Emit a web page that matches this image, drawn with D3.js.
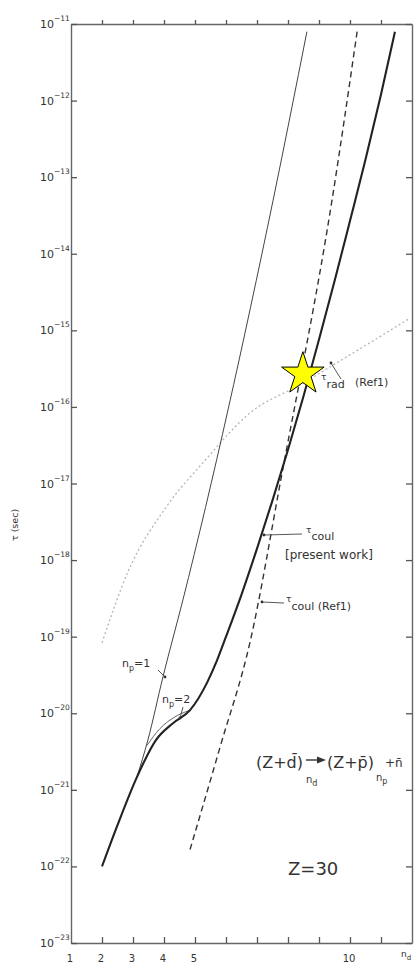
<!DOCTYPE html>
<html>
<head>
<meta charset="utf-8">
<script src="https://d3js.org/d3.v7.min.js"></script>
<style>
  body { margin: 0; background: #fff; }
  svg text { font-family: "DejaVu Sans", "Liberation Sans", sans-serif; fill: #333; }
</style>
</head>
<body>
<script>
// n_d ticks and labels
let ndTicks = [2, 3, 4, 5, 6, 7, 8, 9, 10, 11];
let ndLabels = [1, 2, 3, 4, 5, 10];
// tau decades (exponent of 10)
let tauDecades = [-11, -12, -13, -14, -15, -16, -17, -18, -19, -20, -21, -22, -23];

// curves: n_d and log10(tau)
// total, present work (thick)
let coulNd =  [2, 2.5, 3.13, 3.74, 4.29, 4.84, 5.39, 5.7, 6.0, 6.5, 7.0, 7.5, 8.0, 8.5, 9.0, 9.5, 10.0, 10.5, 11.0, 11.45];
let coulTau = [-22, -21.46, -20.83, -20.35, -20.13, -19.96, -19.6, -19.32, -19.0, -18.45, -17.85, -17.22, -16.56, -15.86, -15.12, -14.36, -13.57, -12.77, -11.92, -11.1];
// n_p = 1 branch
let np1Nd =  [3.13, 3.48, 3.97, 4.61, 7.52, 8.61];
let np1Tau = [-20.83, -20.35, -19.52, -18.52, -13.3, -11.1];
// n_p = 2 branch near the knee
let np2Nd =  [3.45, 3.87, 4.3, 4.84];
let np2Tau = [-20.42, -20.2, -20.06, -19.96];
// tau_coul (Ref1), dashed
let refNd =  [4.84, 5.81, 6.77, 7.81, 9.42, 10.23];
let refTau = [-21.78, -20.44, -19.08, -16.86, -13.3, -11.1];
// tau_rad (Ref1), dotted
let radNd =  [2.0, 2.84, 4.03, 5.32, 6.77, 8.39, 10.0, 11.94];
let radTau = [-19.08, -18.15, -17.33, -16.7, -16.08, -15.71, -15.32, -14.84];
// star marker
let starNd = [8.48];
let starTau = [-15.57];

let width = 418, height = 973;
let margin = {top: 24, right: 6, bottom: 30, left: 71};

let svg = d3.select("body").append("svg")
    .attr("width", width)
    .attr("height", height);

let x = d3.scaleLinear()
    .domain([1, 12])
    .range([margin.left, width - margin.right]);

let y = d3.scaleLog()
    .domain([1e-23, 1e-11])
    .range([height - margin.bottom, margin.top]);

let pts = (a, b) => a.map((v, i) => [v, b[i]]);

let line = d3.line()
    .x(d => x(d[0]))
    .y(d => y(Math.pow(10, d[1])))
    .curve(d3.curveMonotoneX);

// axes (ticks pointing inward)
let axisColor = "#666";
let gB = svg.append("g")
    .attr("transform", `translate(0,${y.range()[0]})`)
    .call(d3.axisBottom(x).tickValues(ndTicks).tickSize(-6).tickSizeOuter(0).tickFormat(""));
let gT = svg.append("g")
    .attr("transform", `translate(0,${y.range()[1]})`)
    .call(d3.axisTop(x).tickValues(ndTicks).tickSize(4).tickSizeOuter(0).tickFormat(""));
let gL = svg.append("g")
    .attr("transform", `translate(${x.range()[0]},0)`)
    .call(d3.axisLeft(y).tickValues(tauDecades.map(e => Math.pow(10, e))).tickSize(-6).tickSizeOuter(0).tickFormat(""));
let gR = svg.append("g")
    .attr("transform", `translate(${x.range()[1]},0)`)
    .call(d3.axisRight(y).tickValues(tauDecades.map(e => Math.pow(10, e))).tickSize(-6).tickSizeOuter(0).tickFormat(""));
[gB, gT, gL, gR].forEach(g => {
    g.select(".domain").attr("stroke", axisColor).attr("stroke-width", 1.4);
    g.selectAll(".tick line").attr("stroke", "#555").attr("stroke-width", 1.3);
});

// x labels
svg.append("g").selectAll("text")
    .data(ndLabels)
    .join("text")
    .attr("x", d => x(d) - 1)
    .attr("y", y.range()[0] + 19)
    .attr("text-anchor", "middle")
    .attr("font-size", 10)
    .text(d => d);

let xl = svg.append("text")
    .attr("x", 401)
    .attr("y", 957)
    .attr("font-size", 9);
xl.append("tspan").text("n");
xl.append("tspan").attr("dy", 3).attr("font-size", 7).text("d");

// y labels
let yl = svg.append("g").selectAll("text")
    .data(tauDecades)
    .join("text")
    .attr("x", 40)
    .attr("y", d => y(Math.pow(10, d)) + 4)
    .attr("font-size", 11);
yl.append("tspan").text("10");
yl.append("tspan").attr("dy", -7).attr("font-size", 7.5).text(d => "\u2212" + (-d));

svg.append("text")
    .attr("transform", "translate(18,525) rotate(-90)")
    .attr("text-anchor", "middle")
    .attr("font-size", 9.5)
    .text("τ (sec)");

// curves
svg.append("path")
    .attr("d", line(pts(radNd, radTau)))
    .attr("fill", "none")
    .attr("stroke", "#b5b5b5")
    .attr("stroke-width", 1.3)
    .attr("stroke-dasharray", "2,2.5");

svg.append("path")
    .attr("d", line(pts(refNd, refTau)))
    .attr("fill", "none")
    .attr("stroke", "#333")
    .attr("stroke-width", 1.4)
    .attr("stroke-dasharray", "6,4");

svg.append("path")
    .attr("d", line(pts(np1Nd, np1Tau)))
    .attr("fill", "none")
    .attr("stroke", "#444")
    .attr("stroke-width", 1);

svg.append("path")
    .attr("d", line(pts(np2Nd, np2Tau)))
    .attr("fill", "none")
    .attr("stroke", "#555")
    .attr("stroke-width", 0.9);

svg.append("path")
    .attr("d", line(pts(coulNd, coulTau)))
    .attr("fill", "none")
    .attr("stroke", "#222")
    .attr("stroke-width", 2.1);

// annotations
function leader(x1, y1, x2, y2) {
    svg.append("line")
        .attr("x1", x1).attr("y1", y1).attr("x2", x2).attr("y2", y2)
        .attr("stroke", "#444").attr("stroke-width", 0.9);
    svg.append("circle").attr("cx", x2).attr("cy", y2).attr("r", 1.4).attr("fill", "#333");
}

// tau_rad (Ref1)
let t1 = svg.append("text").attr("x", 321).attr("y", 380).attr("font-size", 9);
t1.append("tspan").text("τ");
t1.append("tspan").attr("dy", 8).attr("font-size", 11).text("rad");
svg.append("text").attr("x", 355).attr("y", 386).attr("font-size", 11).text("(Ref1)");
leader(341, 379, 331, 363);

// tau_coul (present work)
let t2 = svg.append("text").attr("x", 306).attr("y", 533).attr("font-size", 9);
t2.append("tspan").text("τ");
t2.append("tspan").attr("dy", 7).attr("font-size", 11).text("coul");
svg.append("text").attr("x", 285).attr("y", 559).attr("font-size", 12).text("[present work]");
leader(302, 534, 264, 535);

// tau_coul (Ref1)
let t3 = svg.append("text").attr("x", 286).attr("y", 602).attr("font-size", 9);
t3.append("tspan").text("τ");
t3.append("tspan").attr("dy", 8).attr("font-size", 11).text("coul (Ref1)");
leader(284, 603, 262, 602);

// n_p = 1, n_p = 2
let t4 = svg.append("text").attr("x", 122).attr("y", 667).attr("font-size", 11);
t4.append("tspan").text("n");
t4.append("tspan").attr("dy", 4).attr("font-size", 8).text("p");
t4.append("tspan").attr("dy", -4).text("=1");
leader(158, 670, 165, 677);

let t5 = svg.append("text").attr("x", 162).attr("y", 703).attr("font-size", 11);
t5.append("tspan").text("n");
t5.append("tspan").attr("dy", 4).attr("font-size", 8).text("p");
t5.append("tspan").attr("dy", -4).text("=2");
leader(183, 707, 180, 718);

// reaction
svg.append("text").attr("x", 256).attr("y", 768).attr("font-size", 16).text("(Z+d\u0304)");
let s1 = svg.append("text").attr("x", 306).attr("y", 783).attr("font-size", 10);
s1.append("tspan").text("n");
s1.append("tspan").attr("dy", 3).attr("font-size", 8).text("d");
svg.append("line").attr("x1", 306).attr("y1", 760).attr("x2", 318).attr("y2", 760)
    .attr("stroke", "#333").attr("stroke-width", 1.4);
svg.append("path").attr("d", "M317,756.5L326,760L317,763.5Z").attr("fill", "#333");
svg.append("text").attr("x", 327).attr("y", 768).attr("font-size", 16).text("(Z+p\u0304)");
let s2 = svg.append("text").attr("x", 376).attr("y", 781).attr("font-size", 10);
s2.append("tspan").text("n");
s2.append("tspan").attr("dy", 3).attr("font-size", 8).text("p");
svg.append("text").attr("x", 385).attr("y", 767).attr("font-size", 12).text("+n\u0304");

svg.append("text").attr("x", 288).attr("y", 875).attr("font-size", 18).text("Z=30");

// star
let star = d3.symbol().type(d3.symbolStar).size(560);
svg.append("g").selectAll("path")
    .data(pts(starNd, starTau))
    .join("path")
    .attr("transform", d => `translate(${x(d[0])},${y(Math.pow(10, d[1]))})`)
    .attr("d", star)
    .attr("fill", "#ffff00")
    .attr("stroke", "#000")
    .attr("stroke-width", 1);
</script>
</body>
</html>
